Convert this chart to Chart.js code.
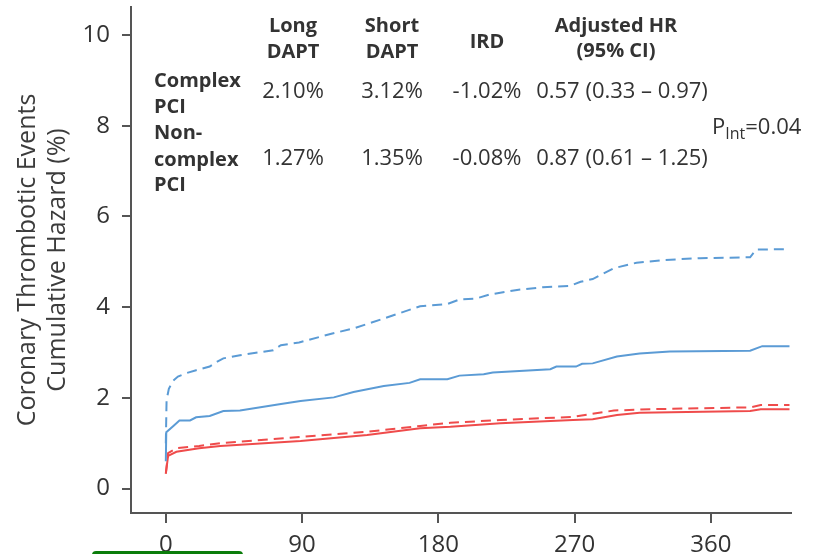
<!DOCTYPE html>
<html><head><meta charset="utf-8">
<script src="https://cdn.jsdelivr.net/npm/chart.js@4.4.1/dist/chart.umd.min.js"></script>
<style>html,body{margin:0;padding:0;background:#fff}#wrap{width:819px;height:554px;position:relative;overflow:hidden}</style>
</head><body><div id="wrap"><canvas id="c" width="819" height="554"></canvas></div>
<script>
// ---- data ----
const xTicks = [0, 90, 180, 270, 360];
const yTicks = [0, 2, 4, 6, 8, 10];

const shortComplexDays = [0, 0.5, 2, 5, 8, 14, 20, 29, 34, 38, 49, 71, 76, 88, 110, 124, 144, 168, 186, 194, 205, 214, 232, 249, 267, 274, 282, 296, 311, 329, 353, 386, 390, 412];
const shortComplexRisk = [1.0, 1.95, 2.2, 2.38, 2.47, 2.55, 2.61, 2.69, 2.8, 2.87, 2.94, 3.05, 3.16, 3.22, 3.42, 3.53, 3.75, 4.02, 4.07, 4.17, 4.19, 4.28, 4.38, 4.44, 4.47, 4.56, 4.62, 4.86, 4.98, 5.04, 5.08, 5.10, 5.27, 5.28];

const longComplexDays = [0, 0.3, 5, 9, 16, 20, 29, 38, 49, 75, 89, 111, 124, 144, 161, 168, 186, 194, 210, 216, 254, 258, 271, 275, 282, 298, 313, 333, 386, 394, 412];
const longComplexRisk = [0.6, 1.24, 1.38, 1.50, 1.50, 1.57, 1.60, 1.71, 1.72, 1.86, 1.93, 2.01, 2.13, 2.26, 2.33, 2.41, 2.41, 2.49, 2.52, 2.56, 2.63, 2.69, 2.69, 2.75, 2.76, 2.91, 2.98, 3.02, 3.04, 3.14, 3.14];

const shortNonComplexDays = [0, 1.5, 7, 22, 36, 89, 133, 168, 188, 221, 269, 296, 320, 386, 393, 412];
const shortNonComplexRisk = [0.33, 0.78, 0.89, 0.94, 1.0, 1.14, 1.25, 1.38, 1.45, 1.51, 1.58, 1.72, 1.75, 1.79, 1.84, 1.84];

const longNonComplexDays = [0, 1.5, 7, 22, 36, 89, 133, 168, 188, 221, 269, 282, 298, 313, 386, 393, 412];
const longNonComplexRisk = [0.33, 0.72, 0.81, 0.89, 0.94, 1.05, 1.18, 1.33, 1.36, 1.44, 1.51, 1.53, 1.62, 1.67, 1.71, 1.75, 1.75];

const columnHeaders = [['Long', 'DAPT'], ['Short', 'DAPT'], ['IRD'], ['Adjusted HR', '(95% CI)']];
const rowLabels = [['Complex', 'PCI'], ['Non-', 'complex', 'PCI']];
const rowValues = [
  ['2.10%', '3.12%', '-1.02%', '0.57 (0.33 – 0.97)'],
  ['1.27%', '1.35%', '-0.08%', '0.87 (0.61 – 1.25)']
];
const pInteraction = ['P', 'Int', '=0.04'];
const yTitle = ['Coronary Thrombotic Events', 'Cumulative Hazard (%)'];

// ---- styles ----
const BLUE = '#5b9bd5', RED = '#ef4b4b', AXIS = '#555555', TXT = '#333333';
const FONT = "'Open Sans', 'Noto Sans', sans-serif";

function pts(d, v) { return d.map((x, i) => ({x: x, y: v[i]})); }

const tablePlugin = {
  id: 'tablePlugin',
  afterDraw(chart) {
    const ctx = chart.ctx;
    ctx.save();
    ctx.fillStyle = TXT;
    ctx.textBaseline = 'alphabetic';
    // headers
    ctx.font = 'bold 20px ' + FONT;
    ctx.textAlign = 'center';
    const hx = [293, 392, 487, 616];
    const hy = [[32, 58], [32, 58], [48], [32, 57]];
    columnHeaders.forEach((lines, i) => lines.forEach((t, j) => ctx.fillText(t, hx[i], hy[i][j])));
    // row labels
    ctx.textAlign = 'left';
    const ry = [[87, 113], [139, 166, 191]];
    rowLabels.forEach((lines, i) => lines.forEach((t, j) => ctx.fillText(t, 154, ry[i][j])));
    // values
    ctx.font = '22px ' + FONT;
    ctx.textAlign = 'center';
    const vx = [293, 392, 487, 622];
    const vy = [98, 165];
    rowValues.forEach((row, i) => row.forEach((t, j) => ctx.fillText(t, vx[j], vy[i])));
    // P interaction
    ctx.textAlign = 'left';
    ctx.font = '22px ' + FONT;
    let x = 712;
    ctx.fillText(pInteraction[0], x, 134);
    x += ctx.measureText(pInteraction[0]).width;
    ctx.font = '16px ' + FONT;
    ctx.fillText(pInteraction[1], x, 139);
    x += ctx.measureText(pInteraction[1]).width;
    ctx.font = '22px ' + FONT;
    ctx.fillText(pInteraction[2], x, 134);
    // green bar at bottom
    ctx.fillStyle = '#0b7d0b';
    ctx.beginPath();
    if (ctx.roundRect) ctx.roundRect(92, 551, 151, 14, 4); else ctx.rect(92, 551, 151, 14);
    ctx.fill();
    ctx.restore();
  }
};

new Chart(document.getElementById('c'), {
  type: 'line',
  data: {
    datasets: [
      {label: 'Short DAPT complex PCI', data: pts(shortComplexDays, shortComplexRisk), borderColor: BLUE, borderDash: [10, 6]},
      {label: 'Long DAPT complex PCI', data: pts(longComplexDays, longComplexRisk), borderColor: BLUE},
      {label: 'Short DAPT non-complex PCI', data: pts(shortNonComplexDays, shortNonComplexRisk), borderColor: RED, borderDash: [10, 6]},
      {label: 'Long DAPT non-complex PCI', data: pts(longNonComplexDays, longNonComplexRisk), borderColor: RED}
    ]
  },
  options: {
    responsive: false,
    animation: false,
    devicePixelRatio: 1,
    layout: {padding: {top: 7, right: 28, left: 0, bottom: 0}},
    elements: {point: {radius: 0}, line: {borderWidth: 2, tension: 0, fill: false}},
    plugins: {legend: {display: false}, tooltip: {enabled: false}},
    scales: {
      x: {
        type: 'linear', min: -23, max: 413,
        afterBuildTicks: s => { s.ticks = xTicks.map(v => ({value: v})); },
        afterFit: s => { s.height = 41; s.paddingLeft = 0; s.paddingRight = 0; },
        grid: {drawOnChartArea: false, color: AXIS, lineWidth: 2, tickLength: 10},
        border: {color: AXIS, width: 2},
        ticks: {color: TXT, font: {family: FONT, size: 24}, padding: 8, maxRotation: 0, autoSkip: false}
      },
      y: {
        type: 'linear', min: -0.54, max: 10.62,
        afterBuildTicks: s => { s.ticks = yTicks.map(v => ({value: v})); },
        afterFit: s => { s.width = 131; s.paddingTop = 0; s.paddingBottom = 0; },
        grid: {drawOnChartArea: false, color: AXIS, lineWidth: 2, tickLength: 9},
        border: {color: AXIS, width: 2},
        ticks: {color: TXT, font: {family: FONT, size: 24}, padding: 12},
        title: {display: true, text: yTitle, color: '#3c3c3c', font: {family: FONT, size: 25, lineHeight: 1.2}, padding: {top: 13, bottom: 0}}
      }
    }
  },
  plugins: [tablePlugin]
});
</script></body></html>
